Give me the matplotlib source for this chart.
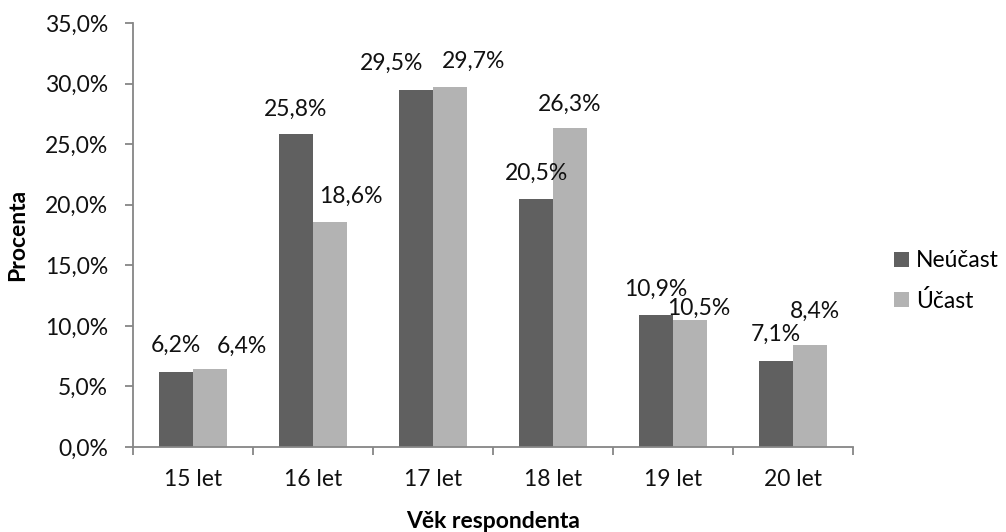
#!/usr/bin/env python

from matplotlib import pyplot as plt
from matplotlib.ticker import FuncFormatter
import numpy as np

categories = ["15 let", "16 let", "17 let", "18 let", "19 let", "20 let"]
neucast = [6.2, 25.8, 29.5, 20.5, 10.9, 7.1]
ucast = [6.4, 18.6, 29.7, 26.3, 10.5, 8.4]
series_names = ["Neúčast", "Účast"]

# label nudges in pixels (dx, height of text baseline above bar top), like excel placed them
nudge_neucast = [(0, 20), (0, 19), (-24, 20), (0, 19), (0, 19), (0, 20)]
nudge_ucast = [(32, 17), (21, 19), (24, 19), (0, 18), (9, 5), (5, 27)]


def fmt(v):
    return f"{v:.1f}%".replace(".", ",")


def main():
    plt.rcParams["font.family"] = ["Lato", "DejaVu Sans"]
    fs = 16.5
    fig = plt.figure(figsize=(10.06, 5.32), dpi=100)
    ax = fig.add_axes([133 / 1006, 85 / 532, 720 / 1006, 424 / 532])

    x = np.arange(len(categories))
    w = 0.283
    axis_color = "#868686"

    b1 = ax.bar(x - w / 2, neucast, w, color="#606060", label=series_names[0])
    b2 = ax.bar(x + w / 2, ucast, w, color="#b3b3b3", label=series_names[1])

    for bars, vals, nudges in [(b1, neucast, nudge_neucast), (b2, ucast, nudge_ucast)]:
        for rect, v, (dx, dy) in zip(bars, vals, nudges):
            ax.annotate(fmt(v), (rect.get_x() + rect.get_width() / 2, v),
                        xytext=(dx, dy), textcoords="offset pixels",
                        ha="center", va="baseline", fontsize=fs, color="#111111")

    ax.set_xlim(-0.5, len(categories) - 0.5)
    ax.set_ylim(0, 35)
    ax.set_yticks(np.arange(0, 35.1, 5))
    ax.yaxis.set_major_formatter(FuncFormatter(lambda v, p: fmt(v)))
    ax.set_xticks(x)
    ax.set_xticklabels(categories)
    ax.set_xticks(np.arange(-0.5, len(categories)), minor=True)

    for s in ["top", "right"]:
        ax.spines[s].set_visible(False)
    for s in ["left", "bottom"]:
        ax.spines[s].set_color(axis_color)
        ax.spines[s].set_linewidth(1.3)

    ax.tick_params(axis="y", length=6, width=1.3, color=axis_color,
                   labelsize=fs, labelcolor="#111111", pad=12)
    ax.tick_params(axis="x", which="major", length=0, labelsize=fs,
                   labelcolor="#111111", pad=16)
    ax.tick_params(axis="x", which="minor", length=6, width=1.3, color=axis_color)

    fig.text(18 / 1006, 1 - 235 / 532, "Procenta", rotation=90, fontsize=fs,
             fontweight="bold", ha="center", va="center")
    fig.text(493 / 1006, 1 - 521 / 532, "Věk respondenta", fontsize=fs,
             fontweight="bold", ha="center", va="center")

    ax.legend(loc="center left", bbox_to_anchor=(894 / 1006, 1 - 281 / 532),
              bbox_transform=fig.transFigure, frameon=False, fontsize=fs,
              handlelength=0.65, handleheight=0.65, handletextpad=0.3,
              labelspacing=0.8, borderpad=0, borderaxespad=0)

    fig.savefig("out.png", dpi=100)


if __name__ == "__main__":
    main()
